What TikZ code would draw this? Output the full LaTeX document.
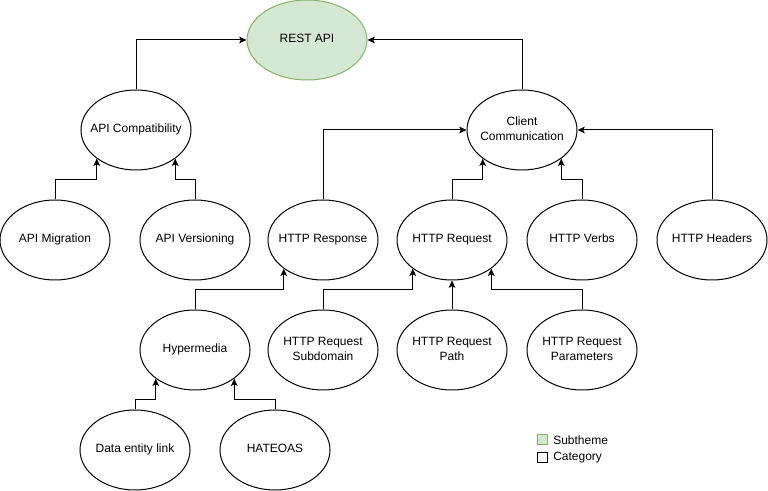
\documentclass[tikz,border=0pt]{standalone}
\usepackage{fontspec}
\setmainfont{Liberation Sans}
\usetikzlibrary{shapes.geometric,arrows.meta}
\definecolor{subfill}{HTML}{D5E8D4}
\definecolor{subline}{HTML}{82B366}
\newcommand{\elbl}[1]{\makebox[0pt]{\raisebox{-1.3pt}{\begin{tabular}{@{}c@{}}#1\end{tabular}}}}
\tikzset{
  x=0.75pt, y=-0.75pt,
  every node/.style={font=\fontsize{9pt}{10.8pt}\selectfont},
  cat/.style={ellipse, draw=black, line width=0.75pt, fill=white, minimum width=82.5pt, minimum height=60pt, inner sep=0pt},
  sub/.style={cat, draw=subline, fill=subfill, minimum width=90pt},
  conn/.style={draw=black, line width=0.75pt, -{Stealth[length=5.5pt, width=5pt, inset=1.2pt]}},
  legbox/.style={draw, line width=0.75pt, minimum size=7.5pt, inner sep=0pt},
}
\begin{document}
\begin{tikzpicture}
\useasboundingbox (0,0) rectangle (768,491);
\node[sub] (rest) at (307,40) {\elbl{REST API}};
\node[cat] (apic) at (136,130) {\elbl{API Compatibility}};
\node[cat] (cc) at (522,130) {\elbl{Client\\Communication}};
\node[cat] (mig) at (55,240) {\elbl{API Migration}};
\node[cat] (ver) at (195,240) {\elbl{API Versioning}};
\node[cat] (resp) at (323,240) {\elbl{HTTP Response}};
\node[cat] (req) at (452,240) {\elbl{HTTP Request}};
\node[cat] (verbs) at (582,240) {\elbl{HTTP Verbs}};
\node[cat] (hdr) at (712,240) {\elbl{HTTP Headers}};
\node[cat] (hyp) at (195,350) {\elbl{Hypermedia}};
\node[cat] (subd) at (323,350) {\elbl{HTTP Request\\Subdomain}};
\node[cat] (path) at (452,350) {\elbl{HTTP Request\\Path}};
\node[cat] (par) at (582,350) {\elbl{HTTP Request\\Parameters}};
\node[cat] (del) at (135,450) {\elbl{Data entity link}};
\node[cat] (hat) at (275,450) {\elbl{HATEOAS}};

\draw[conn] (apic.north) |- (rest.west);
\draw[conn] (cc.north) |- (rest.east);
\draw[conn] (mig.north) -- ++(0,-20) -| (apic.south west);
\draw[conn] (ver.north) -- ++(0,-20) -| (apic.south east);
\draw[conn] (resp.north) |- (cc.west);
\draw[conn] (hdr.north) |- (cc.east);
\draw[conn] (req.north) -- ++(0,-20) -| (cc.south west);
\draw[conn] (verbs.north) -- ++(0,-20) -| (cc.south east);
\draw[conn] (hyp.north) -- ++(0,-20) -| (resp.south west);
\draw[conn] (subd.north) -- ++(0,-20) -| (req.south west);
\draw[conn] (path.north) -- (req.south);
\draw[conn] (par.north) -- ++(0,-20) -| (req.south east);
\draw[conn] (del.north) -- ++(0,-10) -| (hyp.south west);
\draw[conn] (hat.north) -- ++(0,-10) -| (hyp.south east);

\node[legbox, draw=subline, fill=subfill] (lg1) at (542,440) {};
\node[legbox, draw=black, fill=white] (lg2) at (542,458) {};
\node[anchor=west, inner sep=0pt] (lt1) at (553,440) {Subtheme};
\node[anchor=west, inner sep=0pt] (lt2) at (553,458) {Category};
\end{tikzpicture}
\end{document}
